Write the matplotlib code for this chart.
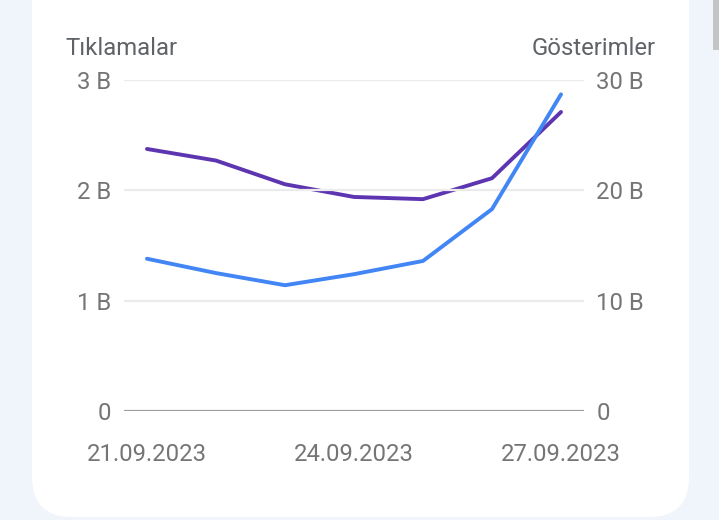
import matplotlib
matplotlib.use("Agg")
import matplotlib.pyplot as plt
from matplotlib.patches import FancyBboxPatch, Rectangle

plt.rcParams['font.family'] = ['Roboto', 'DejaVu Sans']

# data (billions)
days = ['21.09.2023', '22.09.2023', '23.09.2023', '24.09.2023',
        '25.09.2023', '26.09.2023', '27.09.2023']
clicks = [1.38, 1.25, 1.14, 1.24, 1.36, 1.83, 2.87]          # left axis
impressions = [23.75, 22.7, 20.55, 19.4, 19.2, 21.1, 27.1]   # right axis
shown_days = ['21.09.2023', '24.09.2023', '27.09.2023']
left_ticks = [0, 1, 2, 3]
left_labels = ['0', '1 B', '2 B', '3 B']
right_ticks = [0, 10, 20, 30]
right_labels = ['0', '10 B', '20 B', '30 B']

W, H = 719, 520
fig = plt.figure(figsize=(W / 100, H / 100), dpi=100)
fig.patch.set_facecolor('#f0f4fb')

# background card, pixel coordinates
bg = fig.add_axes([0, 0, 1, 1])
bg.set_xlim(0, W)
bg.set_ylim(H, 0)
bg.axis('off')
bg.add_patch(FancyBboxPatch((32, -100), 657, 617,
                            boxstyle="round,pad=0,rounding_size=40",
                            facecolor='white', edgecolor='none'))
bg.add_patch(Rectangle((713, 0), 6, 50, facecolor='#c4c4c4', edgecolor='none'))

blue = '#4285f4'
purple = '#5e35b1'
tick_col = '#757575'
title_col = '#5f6368'
fs = 17.2

ax = fig.add_axes([124 / W, 109 / H, 460 / W, 331 / H])
ax.patch.set_alpha(0)
ax2 = ax.twinx()

x = list(range(len(days)))
ax.set_xlim(-0.333, len(days) - 1 + 0.333)
ax.set_ylim(0, 3)
ax2.set_ylim(0, 30)

for v in left_ticks[1:]:
    ax.axhline(v, color='#ebebeb', lw=1.6, zorder=0)
ax.axhline(0, color='#9e9e9e', lw=1.6, zorder=1)

ax2.plot(x, impressions, color=purple, lw=2.8, solid_capstyle='round', zorder=3)
ax.plot(x, clicks, color=blue, lw=2.8, solid_capstyle='round', zorder=3)
ax.set_zorder(ax2.get_zorder() + 1)

for a in (ax, ax2):
    for s in a.spines.values():
        s.set_visible(False)

ax.set_yticks(left_ticks)
ax.set_yticklabels(left_labels)
ax2.set_yticks(right_ticks)
ax2.set_yticklabels(right_labels)
ax.set_xticks([days.index(d) for d in shown_days])
ax.set_xticklabels(shown_days)

ax.tick_params(axis='y', length=0, pad=9, labelsize=fs, labelcolor=tick_col)
ax2.tick_params(axis='y', length=0, pad=9, labelsize=fs, labelcolor=tick_col)
ax.tick_params(axis='x', length=0, pad=23, labelsize=fs, labelcolor=tick_col)

fig.text(65 / W, 1 - 55 / H, 'Tıklamalar', ha='left', va='baseline',
         fontsize=fs, color=title_col)
fig.text(656 / W, 1 - 55 / H, 'Gösterimler', ha='right', va='baseline',
         fontsize=fs, color=title_col)

fig.savefig('out.png', dpi=100, facecolor=fig.get_facecolor())
